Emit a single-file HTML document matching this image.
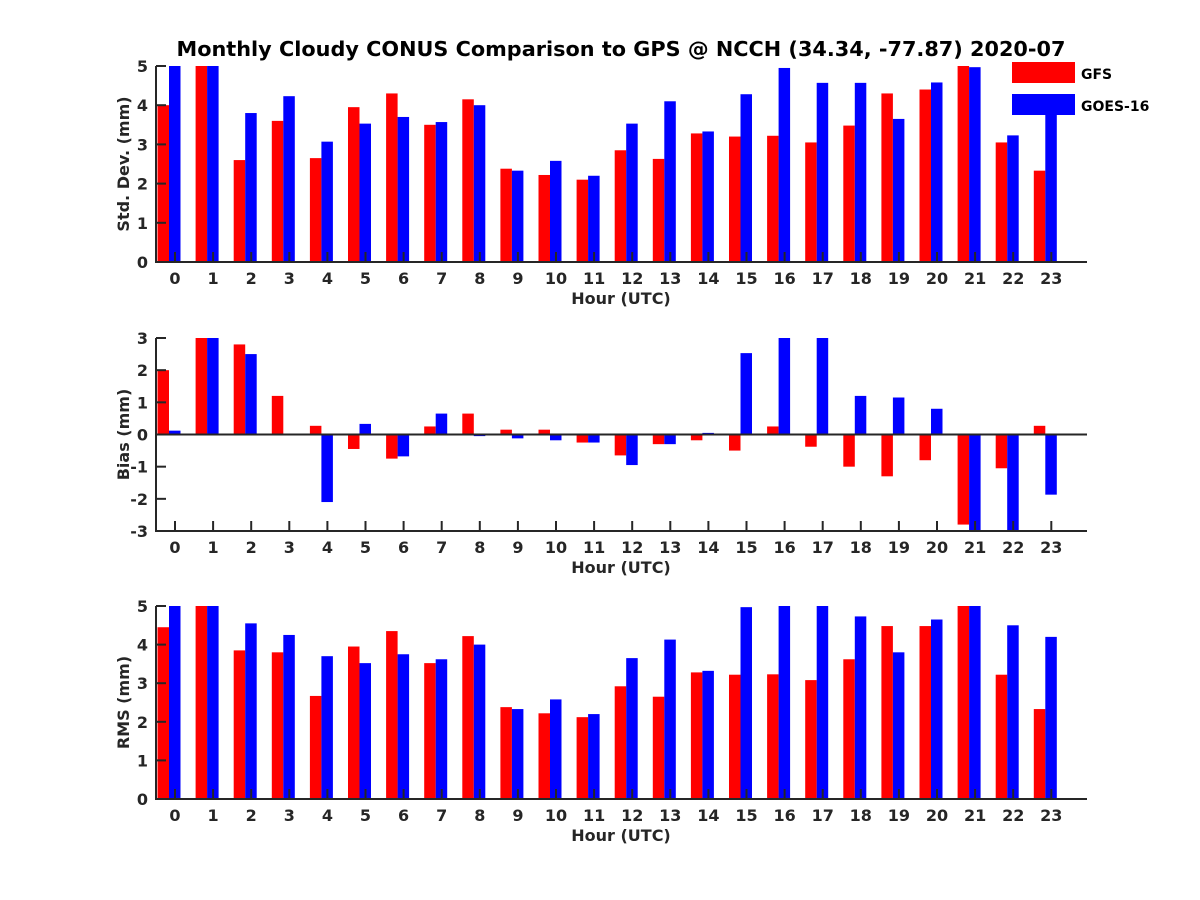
<!DOCTYPE html>
<html><head><meta charset="utf-8"><style>
body{margin:0;background:#fff;}
svg{display:block;font-family:"DejaVu Sans","Liberation Sans",sans-serif;font-weight:bold;}
</style></head><body>
<svg id="chart" width="1200" height="900" viewBox="0 0 1200 900">
<rect width="1200" height="900" fill="#fff"/>
<text x="621" y="56" font-size="20.8" text-anchor="middle" fill="#000">Monthly Cloudy CONUS Comparison to GPS @ NCCH (34.34, -77.87) 2020-07</text>
<g>
<rect x="1012" y="62" width="63" height="21" fill="#f00"/>
<text x="1081" y="79" font-size="14" fill="#000">GFS</text>
<rect x="1012" y="94" width="63" height="21" fill="#00f"/>
<text x="1081" y="111" font-size="14" fill="#000">GOES-16</text>
</g>
</svg>
<script>
const hours = [0,1,2,3,4,5,6,7,8,9,10,11,12,13,14,15,16,17,18,19,20,21,22,23];
const stdGFS = [4.0,5,2.6,3.6,2.65,3.95,4.3,3.5,4.15,2.38,2.22,2.1,2.85,2.63,3.28,3.2,3.22,3.05,3.48,4.3,4.4,5,3.05,2.33];
const stdGOES = [5,5,3.8,4.23,3.07,3.53,3.7,3.57,4.0,2.33,2.58,2.2,3.53,4.1,3.33,4.28,4.95,4.57,4.57,3.65,4.58,4.97,3.23,3.9];
const biasGFS = [2.0,3,2.8,1.2,0.27,-0.45,-0.75,0.25,0.65,0.15,0.15,-0.25,-0.65,-0.3,-0.18,-0.5,0.25,-0.38,-1.0,-1.3,-0.8,-2.8,-1.05,0.27];
const biasGOES = [0.12,3,2.5,0,-2.1,0.33,-0.68,0.65,-0.05,-0.12,-0.18,-0.25,-0.95,-0.3,0.05,2.53,3,3,1.2,1.15,0.8,-3,-3,-1.87];
const rmsGFS = [4.45,5,3.85,3.8,2.67,3.95,4.35,3.52,4.22,2.38,2.22,2.12,2.92,2.65,3.28,3.22,3.23,3.08,3.62,4.48,4.48,5,3.22,2.33];
const rmsGOES = [5,5,4.55,4.25,3.7,3.52,3.75,3.62,4.0,2.33,2.58,2.2,3.65,4.13,3.32,4.97,5,5,4.73,3.8,4.65,5,4.5,4.2];
const stdTicks = [0,1,2,3,4,5];
const biasTicks = [-3,-2,-1,0,1,2,3];
const rmsTicks = [0,1,2,3,4,5];

const svg = document.getElementById('chart');
const NS = 'http://www.w3.org/2000/svg';
function mk(tag, attrs){const e=document.createElementNS(NS,tag);for(const k in attrs)e.setAttribute(k,attrs[k]);return e;}
const X0=156, X1=1087;
function xs(h){return 175 + h*38.1;}

function panel(key, top, bottom, ymin, ymax, ticks, a, b, ylabel){
  const g = mk('g',{});
  
  
  svg.appendChild(g);
  const ys = v => bottom - (Math.max(ymin,Math.min(ymax,v))-ymin)/(ymax-ymin)*(bottom-top);
  const z = ys(Math.max(ymin,0));
  hours.forEach((h,i)=>{
    const cx = xs(h);
    const y1 = ys(a[i]);
    const r = mk('rect',{x:cx-17.5,y:Math.min(y1,z),width:11.5,height:Math.abs(z-y1),fill:'#f00'});
    
    
    g.appendChild(r);
    const y2 = ys(b[i]);
    const r2 = mk('rect',{x:cx-6,y:Math.min(y2,z),width:11.5,height:Math.abs(z-y2),fill:'#00f'});
    
    
    g.appendChild(r2);
  });
  const c='#262626';
  g.appendChild(mk('line',{x1:X0,y1:top,x2:X0,y2:bottom+1,stroke:c,'stroke-width':2}));
  g.appendChild(mk('line',{x1:X0-1,y1:bottom,x2:X1,y2:bottom,stroke:c,'stroke-width':2}));
  if(ymin<0) g.appendChild(mk('line',{x1:X0,y1:z,x2:X1,y2:z,stroke:c,'stroke-width':2}));
  ticks.forEach(t=>{
    const y=ys(t);
    g.appendChild(mk('line',{x1:X0,y1:y,x2:X0+10,y2:y,stroke:c,'stroke-width':2}));
    const tx=mk('text',{x:X0-8,y:y+6,'font-size':16,'text-anchor':'end',fill:c});
    tx.textContent=t;
    
    
    g.appendChild(tx);
  });
  hours.forEach(h=>{
    const x=xs(h);
    g.appendChild(mk('line',{x1:x,y1:bottom,x2:x,y2:bottom-10,stroke:c,'stroke-width':2}));
    const tx=mk('text',{x:x,y:bottom+22,'font-size':16,'text-anchor':'middle',fill:c});
    tx.textContent=h;
    
    
    g.appendChild(tx);
  });
  const xl=mk('text',{x:621,y:bottom+42,'font-size':16,'text-anchor':'middle',fill:c});
  xl.textContent='Hour (UTC)';
  
  
  g.appendChild(xl);
  const ym=(top+bottom)/2;
  const yl=mk('text',{x:129,y:ym,'font-size':16,'text-anchor':'middle',fill:c,transform:'rotate(-90 129 '+ym+')'});
  yl.textContent=ylabel;
  
  
  g.appendChild(yl);
}
panel('std',66,262,0,5,stdTicks,stdGFS,stdGOES,'Std. Dev. (mm)');
panel('bias',338,531,-3,3,biasTicks,biasGFS,biasGOES,'Bias (mm)');
panel('rms',606,799,0,5,rmsTicks,rmsGFS,rmsGOES,'RMS (mm)');
</script>
</body></html>
